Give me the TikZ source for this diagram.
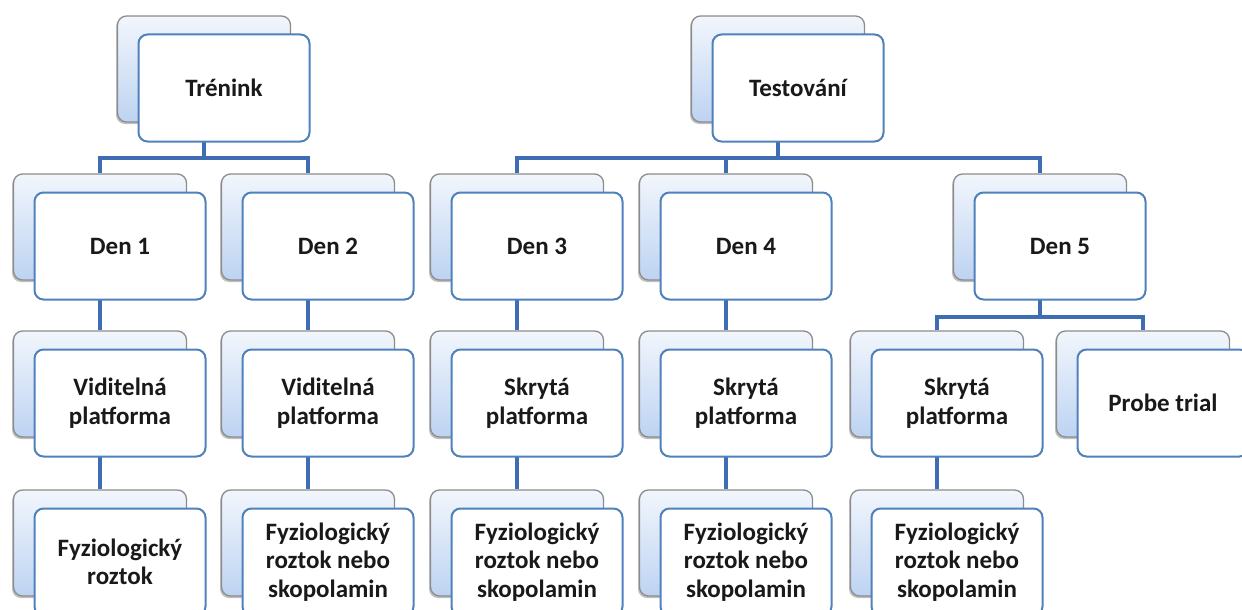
\documentclass[tikz,border=0pt]{standalone}
\usepackage{fontspec}
\setmainfont{Carlito}
\usetikzlibrary{backgrounds,shadows}
\definecolor{conncol}{HTML}{3F6DB3}
\definecolor{fborder}{HTML}{4F81BD}
\definecolor{bborder}{HTML}{8C8C8C}
\definecolor{btop}{HTML}{F2F6FC}
\definecolor{bbot}{HTML}{BDD3F2}
\tikzset{
 backbox/.style={draw=bborder, line width=1.3pt, rounded corners=9pt, top color=btop, bottom color=bbot,
   minimum width=173pt, minimum height=106pt, inner sep=0pt,
   drop shadow={shadow xshift=-1.5pt, shadow yshift=-2pt, opacity=0.25, fill=black}},
 frontbox/.style={draw=fborder, line width=2pt, rounded corners=9pt, fill=white,
   minimum width=171pt, minimum height=107pt, inner sep=0pt, align=center,
   font=\fontsize{25}{28.5}\selectfont\bfseries, text=black!90},
 link/.style={draw=conncol, line width=4pt}
}
\newcommand\mybox[4]{%
 \node[backbox] (#1b) at ({#2-20},{#3-19}) {};
 \node[frontbox] (#1) at (#2,#3) {#4};
}
\begin{document}
\begin{tikzpicture}[x=1pt,y=-1pt]
\useasboundingbox (0,0) rectangle (1242,610);
% row 1
\mybox{tr}{224}{88}{Trénink}
\mybox{te}{798}{88}{Testování}
% row 2
\mybox{da}{120}{246}{Den 1}
\mybox{db}{328}{246}{Den 2}
\mybox{dc}{537}{246}{Den 3}
\mybox{dd}{746}{246}{Den 4}
\mybox{de}{1060}{246}{Den 5}
% row 3
\mybox{va}{120}{403}{Viditelná\\platforma}
\mybox{vb}{328}{403}{Viditelná\\platforma}
\mybox{vc}{537}{403}{Skrytá\\platforma}
\mybox{vd}{746}{403}{Skrytá\\platforma}
\mybox{ve}{957}{403}{Skrytá\\platforma}
\mybox{pt}{1163}{403}{Probe trial}
% row 4
\mybox{fa}{120}{562}{Fyziologický\\roztok}
\mybox{fb}{328}{562}{Fyziologický\\roztok nebo\\skopolamin}
\mybox{fc}{537}{562}{Fyziologický\\roztok nebo\\skopolamin}
\mybox{fd}{746}{562}{Fyziologický\\roztok nebo\\skopolamin}
\mybox{fe}{957}{562}{Fyziologický\\roztok nebo\\skopolamin}
\begin{scope}[on background layer]
 \fill[white] (0,0) rectangle (1242,610);
 \coordinate (jtr) at (205,158);
 \coordinate (jte) at (780,158);
 \coordinate (jde) at (1040,317);
 \draw[link] (trb.south) -- (trb.south |- jtr) -| (dab.north);
 \draw[link] (trb.south |- jtr) -| (dbb.north);
 \draw[link] (teb.south) -- (teb.south |- jte) -| (dcb.north);
 \draw[link] (teb.south |- jte) -| (ddb.north);
 \draw[link] (teb.south |- jte) -| (deb.north);
 \draw[link] (deb.south) -- (deb.south |- jde) -| (veb.north);
 \draw[link] (deb.south |- jde) -| (ptb.north);
 \draw[link] (dab.south) -- (vab.north);
 \draw[link] (dbb.south) -- (vbb.north);
 \draw[link] (dcb.south) -- (vcb.north);
 \draw[link] (ddb.south) -- (vdb.north);
 \draw[link] (vab.south) -- (fab.north);
 \draw[link] (vbb.south) -- (fbb.north);
 \draw[link] (vcb.south) -- (fcb.north);
 \draw[link] (vdb.south) -- (fdb.north);
 \draw[link] (veb.south) -- (feb.north);
\end{scope}
\end{tikzpicture}
\end{document}
